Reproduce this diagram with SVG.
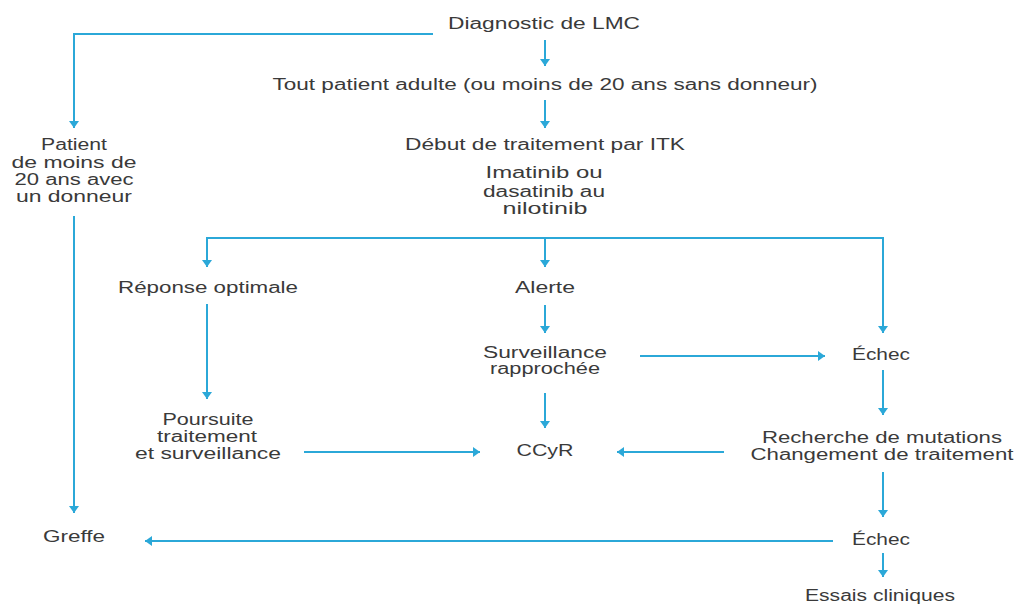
<svg xmlns="http://www.w3.org/2000/svg" width="1017" height="606" viewBox="0 0 1017 606">
<style>
text{font-family:"Liberation Sans",Arial,sans-serif;font-size:16px;fill:#3a3a3a;text-anchor:middle}
.c{fill:none;stroke:#2ba8d8;stroke-width:2}
</style>
<defs>
<marker id="ah" viewBox="0 0 7 10" markerWidth="7" markerHeight="10" refX="7" refY="5" orient="auto" markerUnits="userSpaceOnUse">
<path d="M0,0 L7,5 L0,10 z" fill="#2ba8d8"/>
</marker>
</defs>
<rect width="1017" height="606" fill="#ffffff"/>
<g id="connectors">
<path class="c" d="M433,34 H74 V128" marker-end="url(#ah)"/>
<path class="c" d="M545,40 V66" marker-end="url(#ah)"/>
<path class="c" d="M545,100 V128" marker-end="url(#ah)"/>
<path class="c" d="M207,267 V238 H883 V333" marker-end="url(#ah)"/>
<path class="c" d="M545,238 V267" marker-end="url(#ah)"/>
<path class="c" d="M207,238 V267" marker-end="url(#ah)"/>
<path class="c" d="M207,304 V399" marker-end="url(#ah)"/>
<path class="c" d="M545,305 V333" marker-end="url(#ah)"/>
<path class="c" d="M640,356 H825" marker-end="url(#ah)"/>
<path class="c" d="M545,393 V428" marker-end="url(#ah)"/>
<path class="c" d="M883,370 V415" marker-end="url(#ah)"/>
<path class="c" d="M724,452 H617" marker-end="url(#ah)"/>
<path class="c" d="M304,452 H480" marker-end="url(#ah)"/>
<path class="c" d="M883,472 V517" marker-end="url(#ah)"/>
<path class="c" d="M833,541 H145" marker-end="url(#ah)"/>
<path class="c" d="M74,216 V513" marker-end="url(#ah)"/>
<path class="c" d="M883,553 V577" marker-end="url(#ah)"/>
</g>
<g id="diagnostic"><text x="544" y="29" textLength="192" lengthAdjust="spacingAndGlyphs">Diagnostic de LMC</text></g>
<g id="tout-patient"><text x="545" y="90" textLength="545" lengthAdjust="spacingAndGlyphs">Tout patient adulte (ou moins de 20 ans sans donneur)</text></g>
<g id="debut"><text x="545" y="150" textLength="280" lengthAdjust="spacingAndGlyphs">Début de traitement par ITK</text></g>
<g id="itk">
<text x="544" y="178" textLength="117" lengthAdjust="spacingAndGlyphs">Imatinib ou</text>
<text x="544" y="197" textLength="122" lengthAdjust="spacingAndGlyphs">dasatinib au</text>
<text x="545" y="214" textLength="85" lengthAdjust="spacingAndGlyphs">nilotinib</text>
</g>
<g id="patient-donneur">
<text x="74" y="150" textLength="66" lengthAdjust="spacingAndGlyphs">Patient</text>
<text x="74" y="168" textLength="125" lengthAdjust="spacingAndGlyphs">de moins de</text>
<text x="74" y="185" textLength="119" lengthAdjust="spacingAndGlyphs">20 ans avec</text>
<text x="74" y="202" textLength="116" lengthAdjust="spacingAndGlyphs">un donneur</text>
</g>
<g id="reponse"><text x="208" y="293" textLength="180" lengthAdjust="spacingAndGlyphs">Réponse optimale</text></g>
<g id="alerte"><text x="545" y="293" textLength="60" lengthAdjust="spacingAndGlyphs">Alerte</text></g>
<g id="poursuite">
<text x="208" y="425" textLength="91" lengthAdjust="spacingAndGlyphs">Poursuite</text>
<text x="207" y="442" textLength="100" lengthAdjust="spacingAndGlyphs">traitement</text>
<text x="208" y="459" textLength="146" lengthAdjust="spacingAndGlyphs">et surveillance</text>
</g>
<g id="surveillance">
<text x="545" y="358" textLength="124" lengthAdjust="spacingAndGlyphs">Surveillance</text>
<text x="545" y="374" textLength="110" lengthAdjust="spacingAndGlyphs">rapprochée</text>
</g>
<g id="echec1"><text x="881" y="360" textLength="58" lengthAdjust="spacingAndGlyphs">Échec</text></g>
<g id="recherche">
<text x="882" y="443" textLength="240" lengthAdjust="spacingAndGlyphs">Recherche de mutations</text>
<text x="882" y="460" textLength="263" lengthAdjust="spacingAndGlyphs">Changement de traitement</text>
</g>
<g id="ccyr"><text x="545" y="456" textLength="57" lengthAdjust="spacingAndGlyphs">CCyR</text></g>
<g id="greffe"><text x="74" y="542" textLength="62" lengthAdjust="spacingAndGlyphs">Greffe</text></g>
<g id="echec2"><text x="881" y="545" textLength="58" lengthAdjust="spacingAndGlyphs">Échec</text></g>
<g id="essais"><text x="880" y="601" textLength="150" lengthAdjust="spacingAndGlyphs">Essais cliniques</text></g>
</svg>
